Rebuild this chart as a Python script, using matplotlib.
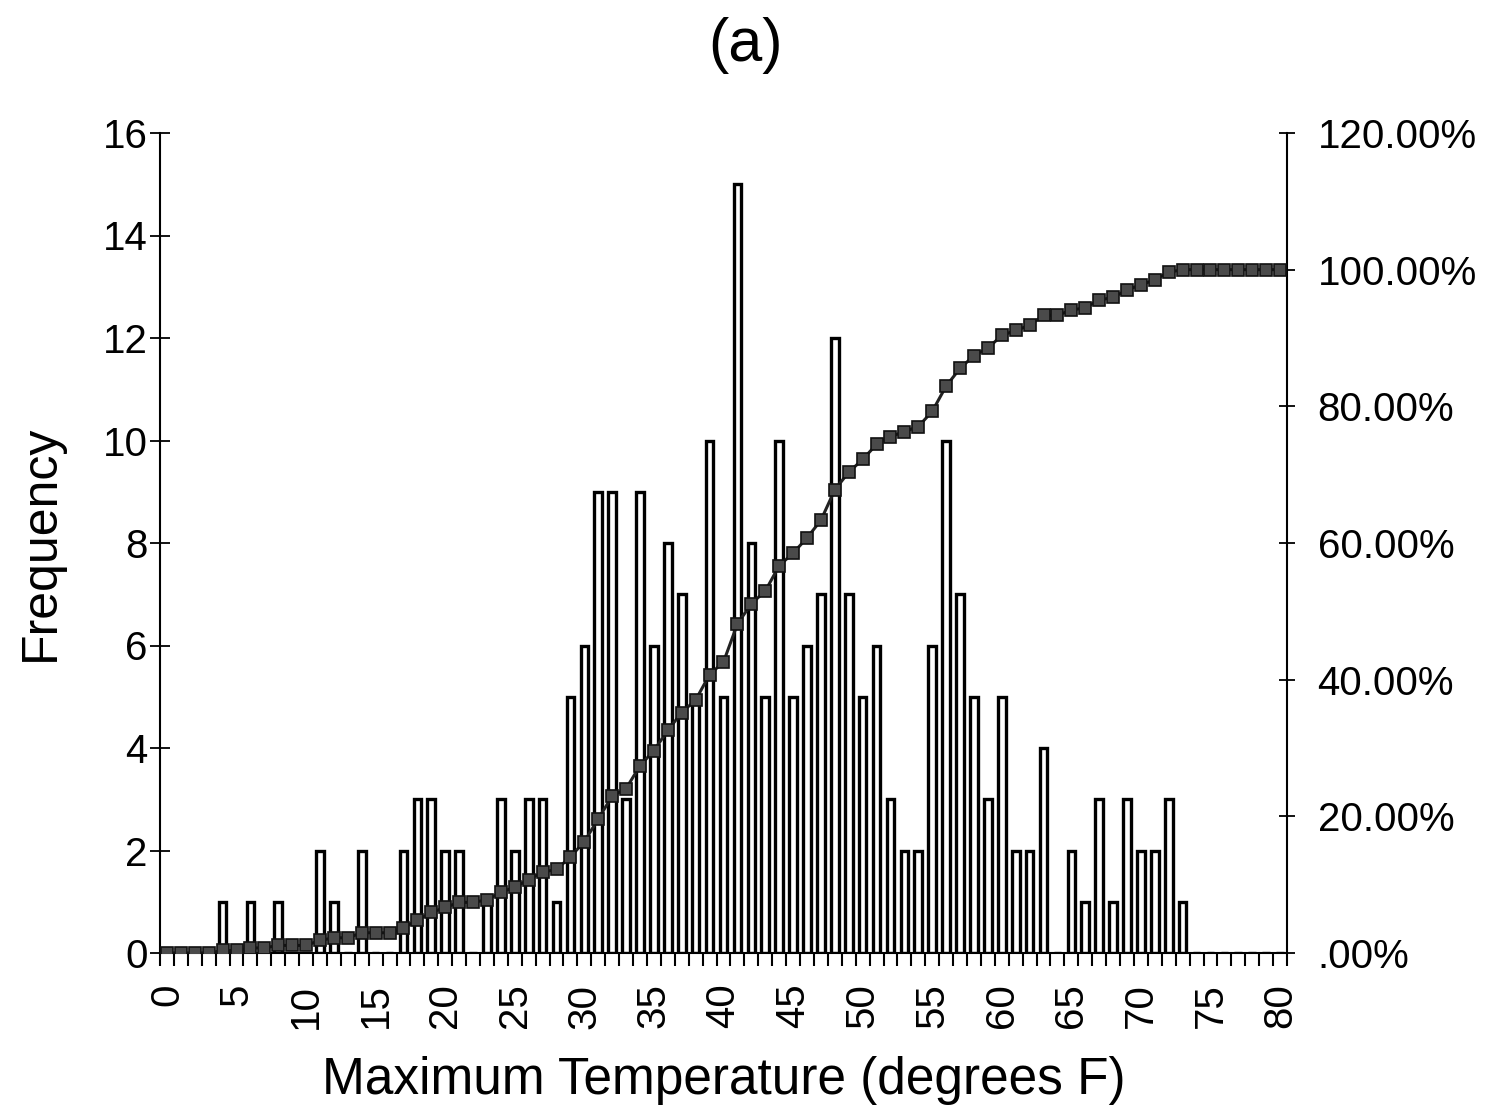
import matplotlib.pyplot as plt
import numpy as np
from matplotlib.ticker import FixedLocator

plt.rcParams['font.family'] = ['Liberation Sans', 'DejaVu Sans']

# categories (degrees F)
temps = list(range(0, 81))

# frequency per bin
freq = [0, 0, 0, 0, 1, 0, 1, 0, 1, 0,
        0, 2, 1, 0, 2, 0, 0, 2, 3, 3,
        2, 2, 0, 1, 3, 2, 3, 3, 1, 5,
        6, 9, 9, 3, 9, 6, 8, 7, 5, 10,
        5, 15, 8, 5, 10, 5, 6, 7, 12, 7,
        5, 6, 3, 2, 2, 6, 10, 7, 5, 3,
        5, 2, 2, 4, 0, 2, 1, 3, 1, 3,
        2, 2, 3, 1, 0, 0, 0, 0, 0, 0,
        0]

# cumulative percent
cum_pct = [0.00, 0.00, 0.00, 0.00, 0.37, 0.37, 0.74, 0.74, 1.11, 1.11,
           1.11, 1.85, 2.22, 2.22, 2.96, 2.96, 2.96, 3.70, 4.81, 5.93,
           6.67, 7.41, 7.41, 7.78, 8.89, 9.63, 10.74, 11.85, 12.22, 14.07,
           16.30, 19.63, 22.96, 24.07, 27.41, 29.63, 32.59, 35.19, 37.04, 40.74,
           42.59, 48.15, 51.11, 52.96, 56.67, 58.52, 60.74, 63.33, 67.78, 70.37,
           72.22, 74.44, 75.56, 76.30, 77.04, 79.26, 82.96, 85.56, 87.41, 88.52,
           90.37, 91.11, 91.85, 93.33, 93.33, 94.07, 94.44, 95.56, 95.93, 97.04,
           97.78, 98.52, 99.63, 100.00, 100.00, 100.00, 100.00, 100.00, 100.00, 100.00,
           100.00]

left_ticks = [0, 2, 4, 6, 8, 10, 12, 14, 16]
right_labels = ['.00%', '20.00%', '40.00%', '60.00%', '80.00%', '100.00%', '120.00%']

fig = plt.figure(figsize=(14.9, 11.09), dpi=100)
ax = fig.add_axes([160/1490, 1-953/1109, (1287-160)/1490, (953-133)/1109])

x = np.arange(len(temps))
ax.bar(x, freq, width=0.55, facecolor='white', edgecolor='black', linewidth=2.4, zorder=2)

ax.set_xlim(-0.5, len(temps) - 0.5)
ax.set_ylim(0, 16)
ax.set_yticks(left_ticks)
ax.set_xticks(x[::5])
ax.set_xticklabels([str(t) for t in temps[::5]], rotation=90, fontsize=29)
ax.xaxis.set_minor_locator(FixedLocator(np.arange(-0.5, len(temps), 1)))
ax.tick_params(axis='x', which='major', length=0, pad=22)
ax.tick_params(axis='x', which='minor', length=9, width=1.5, direction='out')
ax.tick_params(axis='y', which='major', length=14, width=1.3, direction='inout', labelsize=29, pad=2)

for s in ['top', 'right']:
    ax.spines[s].set_visible(False)
for s in ['left', 'bottom']:
    ax.spines[s].set_linewidth(1.5)

ax.set_ylabel('Frequency', fontsize=36, labelpad=28)
ax.set_xlabel('Maximum Temperature (degrees F)', fontsize=37, labelpad=20)

ax2 = ax.twinx()
ax2.plot(x, cum_pct, color='#222222', linewidth=2.2, marker='s', markersize=8.5,
         markerfacecolor='#4a4a4a', markeredgecolor='#111111', markeredgewidth=1.2, zorder=3)
ax2.set_ylim(0, 120)
ax2.set_yticks(np.arange(0, 121, 20))
ax2.set_yticklabels(right_labels, fontsize=29)
ax2.tick_params(axis='y', length=12, width=1.3, direction='inout', pad=16)
for s in ['top', 'left', 'bottom']:
    ax2.spines[s].set_visible(False)
ax2.spines['right'].set_linewidth(1.5)

fig.text(0.5, 1-46/1109, '(a)', fontsize=44, ha='center', va='center')

fig.savefig('out.png', dpi=100)
